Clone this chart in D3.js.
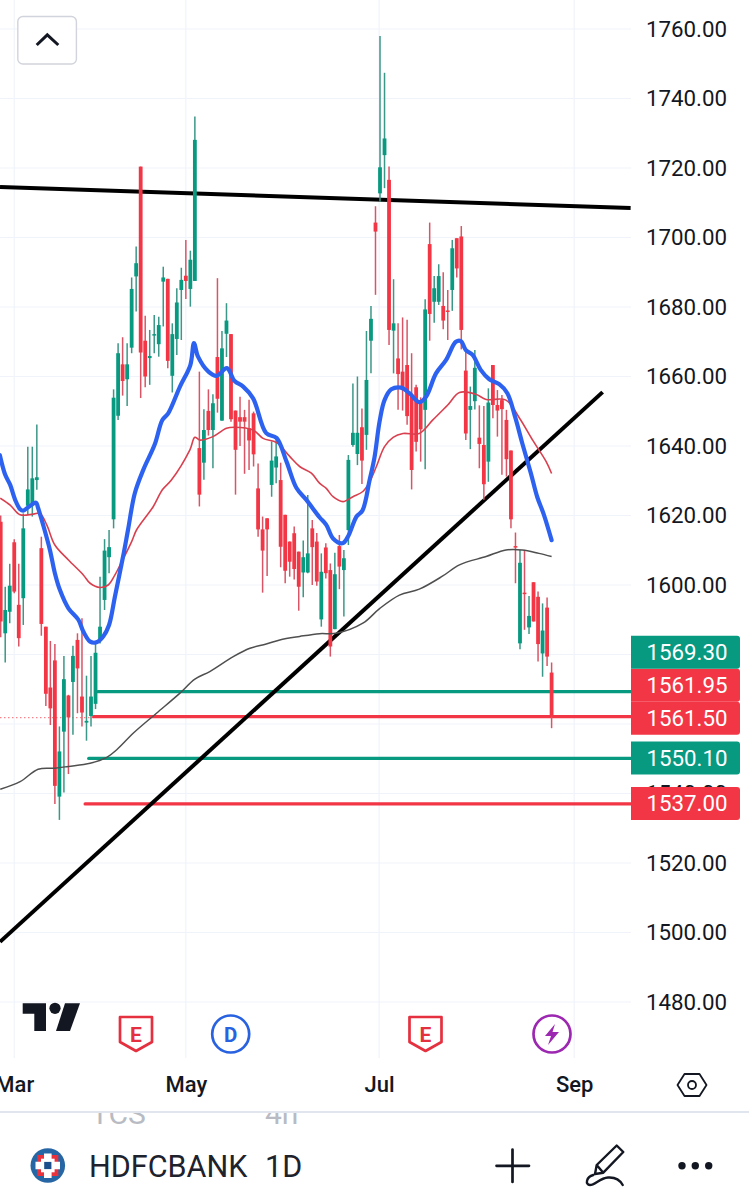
<!DOCTYPE html>
<html><head><meta charset="utf-8">
<script src="https://cdn.jsdelivr.net/npm/d3@7"></script>
<style>html,body{margin:0;padding:0;background:#fff}svg{display:block;font-family:Roboto,sans-serif}</style>
</head><body><div id="c"></div>
<script>
const opens=[1618.2,1586.1,1592.3,1612.3,1594.3,1596.2,1622.8,1623.5,1630.2,1610.6,
1588,1570.5,1578.3,1539.1,1557.8,1568.2,1572.1,1584.2,1567.9,1560.4,
1562.3,1565.8,1584.2,1595.7,1608,1618.9,1648.7,1663.5,1659.2,1668.3,
1688.8,1720.4,1670.3,1665.3,1671.8,1669.3,1687.3,1688.1,1660.2,1670.8,
1684.9,1689,1685.2,1687.5,1639.4,1635.2,1650.1,1644.6,1665.6,1647.3,
1672.3,1672.2,1650.2,1648.3,1648.3,1645.1,1649.4,1627.8,1616,1619.2,
1628.8,1633.8,1630.2,1620.2,1612.5,1614.9,1609.6,1603.6,1603.6,1616.3,
1612.5,1590.1,1610.8,1604.3,1587.3,1611.2,1604.3,1615.8,1640.3,1637.7,
1645.4,1643.2,1670.3,1704.3,1712.7,1723.7,1716.6,1673.2,1665.2,1661.4,
1663.3,1654.7,1656.9,1653.2,1650.4,1698.1,1681.5,1681.5,1680.3,1679,
1684.9,1699.8,1700.3,1661.7,1650.4,1652.9,1642.4,1640.3,1635.5,1663.3,
1651.8,1653.2,1647.5,1638.7,1611.2,1583.2,1597.8,1587.8,1600.8,1596.6,
1580.3,1593.5,1574.8];
const highs=[1620,1599.5,1606.1,1613.2,1606.1,1620.6,1639.8,1639.8,1646.2,1613.9,
1588,1583.9,1583,1559.3,1579.6,1568.4,1582.5,1586.1,1590.4,1573.9,
1579.6,1583.2,1602.4,1613.2,1615.8,1656.3,1669.6,1671.3,1669.6,1688.5,
1697.4,1720.4,1677.5,1673.4,1677.7,1677.2,1691.6,1688.1,1675.3,1685.4,
1691.3,1699.3,1696.2,1734.8,1661.4,1650.6,1656.3,1654.9,1688.3,1673.1,
1681.1,1672.2,1650.2,1654.2,1650.4,1653.3,1649.9,1635,1619.7,1619.2,
1641.3,1642.2,1635.2,1620.2,1612.5,1616.8,1609.6,1612.8,1625.9,1618.7,
1615,1609.1,1612,1606.2,1609.3,1614.4,1610.1,1637.4,1658,1660,
1650.8,1673.1,1680.3,1709,1758,1747.4,1720.4,1688,1675.3,1677,
1676.3,1666.7,1657.6,1654,1682.2,1704.3,1688.9,1692.3,1690,1684.9,
1699.3,1699.8,1703.3,1667.6,1657.1,1667.6,1651.7,1651.5,1656.6,1663.3,
1656.1,1654.7,1650.4,1638.7,1615.1,1610.1,1610.1,1596.8,1600.8,1598.1,
1594.7,1596.4,1577.7];
const lows=[1585,1577.7,1589,1597.6,1582.3,1588.5,1620.2,1619.7,1627.4,1585.4,
1565.2,1559.7,1537,1532.4,1540.3,1545.6,1556.9,1563.1,1559.3,1555.2,
1559.3,1564.3,1583.2,1592.8,1603.4,1616.3,1647.5,1654.5,1651.5,1666.7,
1678.7,1653.8,1656.9,1657.6,1666.7,1665.7,1674.4,1662.4,1655.4,1666.2,
1670.5,1682.3,1680.1,1687.5,1622.6,1630.3,1643,1633.6,1649.6,1647.3,
1665.6,1647,1626,1640,1632,1633.1,1634.1,1613.9,1597.8,1602.6,
1625.4,1629.3,1605.1,1600.5,1602.4,1601.6,1592.6,1596.5,1603.4,1600,
1599.8,1588,1601.9,1579.4,1587.3,1598.8,1590.9,1611.5,1639.8,1634.5,
1629.1,1638.9,1660.9,1683.5,1710.3,1714.2,1669.1,1660.9,1650.4,1650.2,
1646.1,1627.5,1638.4,1635.5,1633.3,1670.3,1675.5,1680.6,1673.6,1670.5,
1678.9,1688.5,1667.8,1641.7,1639.1,1650.5,1633.6,1624.5,1629.7,1648,
1642.7,1631.7,1631.2,1616.3,1600.5,1581.5,1587.1,1585.9,1589.5,1578,
1573.6,1576.7,1558.8];
const closes=[1589.5,1592.8,1599.8,1598.1,1584.7,1616.3,1627.5,1630.7,1631,1588.8,
1568.7,1564.5,1542.2,1552.1,1572.9,1561.9,1579.6,1576,1563.3,1560.9,
1567.9,1580.5,1588,1609.9,1610.9,1653.9,1666.7,1658.7,1663.5,1685.2,
1692.6,1666.9,1660,1665.9,1672.2,1674.8,1688.5,1664.5,1672.2,1681.3,
1687.8,1687.5,1693.6,1728.1,1626,1644.6,1644.6,1652.3,1653.6,1668.1,
1676.1,1647.7,1638.9,1647,1647,1641.6,1637.6,1616,1609.9,1616,
1635.8,1637,1611,1604.1,1606.7,1604.6,1599.5,1608,1609.1,1610.9,
1601,1603.8,1603.4,1582.3,1603.1,1605.3,1607.7,1636,1643.8,1643.8,
1635.8,1659,1676.6,1701.7,1720.2,1728.5,1673.4,1675.3,1660.7,1656.1,
1648.6,1633.1,1641.2,1644.8,1679.3,1678,1685.4,1688.9,1676.1,1678.7,
1696.9,1691.1,1673.4,1643.6,1651.5,1662.5,1640.6,1629,1652.5,1651.8,
1650.2,1650.6,1636.2,1618.9,1610.9,1606.4,1597.4,1591.1,1589.5,1583,
1586.9,1579.4,1562.1];

// moving averages: bar position and value read at the bends of each line
const fastBars=[-0.2,1,2.1,3.2,4.3,5,6.1,7.8,8.3,9.4,10.9,12,13.1,15,17.2,18.3,19.8,21.2,22.7,24,25.3,27.1,28.2,29.7,31.6,34.1,35.8,37.1,39.7,42,42.8,43.7,46,47.8,50.1,51.8,53.7,55.9,58.8,61.1,63.3,65.5,67.7,70.6,72.1,73.6,75.7,76.9,78.8,80.1,81.7,82.8,83.9,85,86.5,88.7,90.5,92.7,94.2,96.4,98.6,100.8,101.9,103,104.5,106.3,108.2,110.4,112.2,114,115.5,117.4,118.8,120.3,122];
const fastMA=[1637.4,1631.7,1628.8,1624.5,1621.8,1621.4,1622.4,1623.7,1622.1,1617.3,1610.1,1603.4,1598.6,1593.3,1590,1586.6,1583.7,1583.5,1585.2,1588.5,1596.7,1608.2,1615.9,1626.4,1633.2,1640.4,1647.5,1649.4,1657.1,1663.3,1669.6,1665.7,1661.4,1660.2,1662.4,1658.7,1657.1,1653.7,1643.7,1642.3,1635.5,1627.9,1624.5,1619.5,1617.3,1613.4,1612,1613.9,1619.7,1621.4,1630.2,1636.9,1647,1653.2,1656.3,1656.8,1655.2,1652.6,1654.2,1660.9,1664.7,1670,1670.2,1667.6,1666.2,1661.9,1659.2,1657.8,1655.2,1648,1640.8,1632.2,1625.4,1620.2,1612.9];
const midBars=[-0.1,2.1,4.3,7.2,8.7,10.2,12,15,18.3,19.8,22,23.8,25.3,26.8,29,30.1,33.8,35.8,37.8,41.9,43,44.1,47,50,51.8,55.9,58.1,61.1,64,66.2,68.8,70.6,72.1,73.6,75.8,78,80.2,81.7,83.2,85,86.9,89.1,92.7,95.7,99,101.6,105.2,107.5,111.9,114.9,117.8,120.8,122];
const midMA=[1625,1623,1620.2,1620.4,1620.6,1617.3,1611.5,1607.2,1602.9,1600.5,1599.3,1600,1602.9,1606.7,1612.5,1615.9,1622.6,1627.4,1630.2,1638.9,1642.5,1641.7,1642.7,1645.1,1645.4,1644.6,1642.2,1641,1637,1634.1,1632.2,1629.3,1627.8,1625.4,1624,1625.4,1626.9,1629.7,1634.1,1639.8,1642.5,1643.6,1643.6,1647.5,1651.8,1655.4,1654.9,1653.4,1653.2,1648,1641.7,1635.5,1632.1];
const slowBars=[-0.1,4.3,8.3,12,15,19.8,23.5,25.7,29.4,34.5,39.7,43,46.3,51.5,55.2,58.8,61.8,66.2,70.6,74.3,80.2,83.9,88.3,92.7,97.9,101.6,107.5,111.9,115.5,119.2,122];
const slowMA=[1541.2,1543.4,1547,1547.3,1547.8,1548.7,1550.4,1552.6,1557.4,1563.1,1568.9,1572.9,1575.1,1579.4,1581.8,1583,1584.2,1585.2,1586,1586.1,1589,1593.2,1597.1,1598.8,1602.6,1605.8,1608.2,1610.1,1610.1,1609.1,1608.2];

// drawn trend lines: [bar, price] ends
const resistanceLine=[[-0.15,1714.5],[139.5,1708.5]];
const supportLine=[[-0.15,1497.3],[133.3,1655.5]];
// drawn levels
const levelPrices=[1569.3,1562.1,1550.1,1537];
const levelStart=[21.5,20.6,19.5,18.7];
const levelKinds=["up","down","up","down"];
// price scale tags
const tagValues=[1537.00,1550.10,1561.50,1561.95,1569.30];
const tagKinds=["down","up","down","down","up"];

const gridPrices=d3.range(1480,1761,20);
// 1560 and 1580 sit wholly under the price tags, so they are not labelled
const labelPrices=[1480,1500,1520,1540,1600,1620,1640,1660,1680,1700,1720,1740,1760];
const monthBars=[3,41,83.8,127];
const monthNames=["Mar","May","Jul","Sep"];

const GREEN="#089981",RED="#f23645",GRID="#f0f3fa",INK="#131722";
const W=749,H=1200,plotR=631,plotB=1058;
const x=d3.scaleLinear().domain([0,122]).range([0.7,551.6]);
const y=d3.scaleLinear().domain([1480,1760]).range([1002,29]);
const svg=d3.select("#c").append("svg").attr("width",W).attr("height",H).attr("viewBox",`0 0 ${W} ${H}`);
const defs=svg.append("defs");
defs.append("clipPath").attr("id","plot").append("rect").attr("width",plotR).attr("height",plotB);
defs.append("clipPath").attr("id","ghost").append("rect").attr("y",1113).attr("width",W).attr("height",60);
const plot=svg.append("g").attr("clip-path","url(#plot)");

// grid
plot.append("g").selectAll("line").data(gridPrices).join("line")
 .attr("x1",0).attr("x2",plotR).attr("y1",d=>y(d)).attr("y2",d=>y(d)).attr("stroke",GRID).attr("stroke-width",1.2);
plot.append("g").selectAll("line").data(monthBars).join("line")
 .attr("x1",d=>x(d)).attr("x2",d=>x(d)).attr("y1",0).attr("y2",plotB).attr("stroke",GRID).attr("stroke-width",1.2);

// dotted last-price line
plot.append("line").attr("x1",0).attr("x2",x(levelStart[1])).attr("y1",y(levelPrices[1])+1).attr("y2",y(levelPrices[1])+1)
 .attr("stroke",RED).attr("stroke-width",1).attr("stroke-dasharray","1.5 2.5").attr("opacity",.75);

// levels
plot.append("g").selectAll("line").data(levelPrices).join("line")
 .attr("x1",(d,i)=>x(levelStart[i])).attr("x2",plotR).attr("y1",d=>y(d)).attr("y2",d=>y(d))
 .attr("stroke",(d,i)=>levelKinds[i]==="up"?GREEN:RED).attr("stroke-width",3.3).attr("stroke-linecap","round");

// trend lines
const tl=d3.line().x(d=>x(d[0])).y(d=>y(d[1]));
plot.append("g").selectAll("path").data([resistanceLine,supportLine]).join("path")
 .attr("d",tl).attr("fill","none").attr("stroke","#000").attr("stroke-width",4);

// candles
const bars=d3.range(opens.length);
const col=i=>closes[i]>=opens[i]?GREEN:RED;
const wickCol=i=>closes[i]>=opens[i]?"#3b9787":"#d95565";
const g=plot.append("g");
g.selectAll("line").data(bars).join("line")
 .attr("x1",x).attr("x2",x).attr("y1",i=>y(highs[i])).attr("y2",i=>y(lows[i]))
 .attr("stroke",wickCol).attr("stroke-width",1.5);
g.selectAll("rect").data(bars).join("rect")
 .attr("x",i=>x(i)-1.9).attr("width",3.8)
 .attr("y",i=>y(Math.max(opens[i],closes[i])))
 .attr("height",i=>Math.max(1.5,Math.abs(y(opens[i])-y(closes[i]))))
 .attr("fill",col);

// moving averages
const ma=d3.line().x(d=>x(d[0])).y(d=>y(d[1])).curve(d3.curveCatmullRom.alpha(0.5));
const pairs=(a,b)=>a.map((v,i)=>[v,b[i]]);
plot.append("path").attr("d",ma(pairs(slowBars,slowMA))).attr("fill","none").attr("stroke","#4f4f4f").attr("stroke-width",1.5).attr("stroke-linejoin","round");
plot.append("path").attr("d",ma(pairs(midBars,midMA))).attr("fill","none").attr("stroke","#d9404f").attr("stroke-width",1.6).attr("stroke-linejoin","round");
plot.append("path").attr("d",ma(pairs(fastBars,fastMA))).attr("fill","none").attr("stroke","#2d62f0").attr("stroke-width",4.2).attr("stroke-linejoin","round").attr("stroke-linecap","round");

// price axis
const yAxis=svg.append("g").attr("transform","translate(646,0)")
 .call(d3.axisRight(y).tickValues(labelPrices).tickFormat(d3.format(".2f")).tickSize(0).tickPadding(0));
yAxis.select(".domain").remove();
yAxis.selectAll("text").attr("font-size",22.3).attr("fill",INK).attr("font-family","Roboto");

// price tags: stacked upward from the lowest so they never overlap
const tagH=33;
let prev=Infinity;
const tagY=tagValues.map(v=>{const c=Math.min(y(v)-0.5,prev-tagH);prev=c;return c;});
const tags=svg.append("g").selectAll("g").data(tagValues).join("g").attr("transform",(d,i)=>`translate(631,${tagY[i]})`);
const tagFill=(d,i)=>tagKinds[i]==="up"?GREEN:RED;
tags.append("path").attr("d",`M0,${-tagH/2}H106a3,3 0 0 1 3,3V${tagH/2-3}a3,3 0 0 1 -3,3H0Z`).attr("fill",tagFill);
tags.append("text").attr("x",15.5).attr("y",0).attr("dy","0.36em").attr("font-size",22.3).attr("fill","#fff").text(d=>d3.format(".2f")(d));

// time axis
const xAxis=svg.append("g").attr("transform","translate(0,1085)")
 .call(d3.axisBottom(x).tickValues(monthBars).tickFormat((d,i)=>monthNames[i]).tickSize(0).tickPadding(0));
xAxis.select(".domain").remove();
xAxis.selectAll("text").attr("font-size",22).attr("font-weight",500).attr("fill",INK).attr("dy","0.34em").attr("y",0).attr("font-family","Roboto");

// collapse button
svg.append("rect").attr("x",17.8).attr("y",16.5).attr("width",58.6).attr("height",47.5).attr("rx",5).attr("fill","#fff").attr("stroke","#d1d4dc").attr("stroke-width",1.4);
svg.append("path").attr("d","M36.7,45L47.3,34.8L58.3,45").attr("fill","none").attr("stroke",INK).attr("stroke-width",3);

// TradingView mark
svg.append("path").attr("fill",INK).attr("d","M22.7,1003.3H46V1031H34.3V1013.7H22.7Z");
svg.append("circle").attr("cx",55).attr("cy",1008.3).attr("r",5.6).attr("fill",INK);
svg.append("path").attr("fill",INK).attr("d","M65,1003.3H80L70,1031H56Z");

// event badges
const shield=(cx,c)=>{
 const s=svg.append("g").attr("transform",`translate(${cx},0)`);
 s.append("path").attr("d","M-16,1017H16V1042L0,1051L-16,1042Z").attr("fill","#fff").attr("stroke",c).attr("stroke-width",2.7).attr("stroke-linejoin","round");
 s.append("text").attr("y",1041.7).attr("text-anchor","middle").attr("font-size",21).attr("font-weight",700).attr("fill",c).text("E");
};
shield(136,"#e5303f");shield(425.5,"#e5303f");
svg.append("circle").attr("cx",230.7).attr("cy",1034).attr("r",18.5).attr("fill","#fff").attr("stroke","#2962e0").attr("stroke-width",2.7);
svg.append("text").attr("x",230.7).attr("y",1041.7).attr("text-anchor","middle").attr("font-size",20.5).attr("font-weight",700).attr("fill","#2962e0").text("D");
svg.append("circle").attr("cx",552).attr("cy",1034).attr("r",18.5).attr("fill","#fff").attr("stroke","#9c27b0").attr("stroke-width",2.7);
svg.append("path").attr("d","M555,1024L545,1036H551L548,1045L559,1032H552.5Z").attr("fill","#9c27b0");

// settings hexagon
svg.append("path").attr("d","M684.5,1074H699.5L706.5,1085L699.5,1096H684.5L677.5,1085Z").attr("fill","none").attr("stroke",INK).attr("stroke-width",1.8).attr("stroke-linejoin","round");
svg.append("circle").attr("cx",692).attr("cy",1085).attr("r",4).attr("fill","none").attr("stroke",INK).attr("stroke-width",1.8);

// separator and scrolled list behind
svg.append("line").attr("x1",0).attr("x2",W).attr("y1",1112).attr("y2",1112).attr("stroke","#d6dde8").attr("stroke-width",1.6);
const ghost=svg.append("g").attr("clip-path","url(#ghost)").attr("fill","#b8bbc2").attr("font-size",30);
ghost.append("text").attr("x",91).attr("y",1124).text("TCS");
ghost.append("text").attr("x",265).attr("y",1124).text("4h");

// bottom bar
svg.append("circle").attr("cx",47.8).attr("cy",1165.5).attr("r",17.3).attr("fill","#2766a5");
svg.append("rect").attr("x",37.3).attr("y",1155).attr("width",21).attr("height",21).attr("fill","#e9323c");
svg.append("path").attr("d","M44,1153.5H51.6V1178H44ZM35.5,1161.7H60V1169.3H35.5Z").attr("fill","#fff");
svg.append("rect").attr("x",41).attr("y",1158.7).attr("width",13.6).attr("height",13.6).attr("fill","#fff");
svg.append("rect").attr("x",44.2).attr("y",1161.9).attr("width",7.2).attr("height",7.2).attr("fill","#1d4f8c");
const title=svg.append("text").attr("x",89).attr("y",1176.7).attr("font-size",30.5).attr("fill","#1e222d");
title.append("tspan").text("HDFCBANK");
title.append("tspan").attr("x",265).text("1D");
svg.append("path").attr("d","M512.5,1149.5V1182M496.5,1165.8H529").attr("stroke",INK).attr("stroke-width",2.7).attr("stroke-linecap","round").attr("fill","none");
svg.append("path").attr("d","M616.7,1145.5L623.3,1152L603.3,1172.7L595,1174L596.7,1165ZM596.7,1165L603.3,1172.7").attr("fill","none").attr("stroke",INK).attr("stroke-width",2.4).attr("stroke-linejoin","round");
svg.append("path").attr("d","M593.3,1175C586,1177 585,1185 590,1185C595,1185 600,1178 608,1177.5C615,1177 620,1180 622.7,1185").attr("fill","none").attr("stroke",INK).attr("stroke-width",2.4).attr("stroke-linecap","round");
svg.append("g").selectAll("circle").data([682,695.3,708.7]).join("circle").attr("cx",d=>d).attr("cy",1165.7).attr("r",3.7).attr("fill",INK);
</script></body></html>
